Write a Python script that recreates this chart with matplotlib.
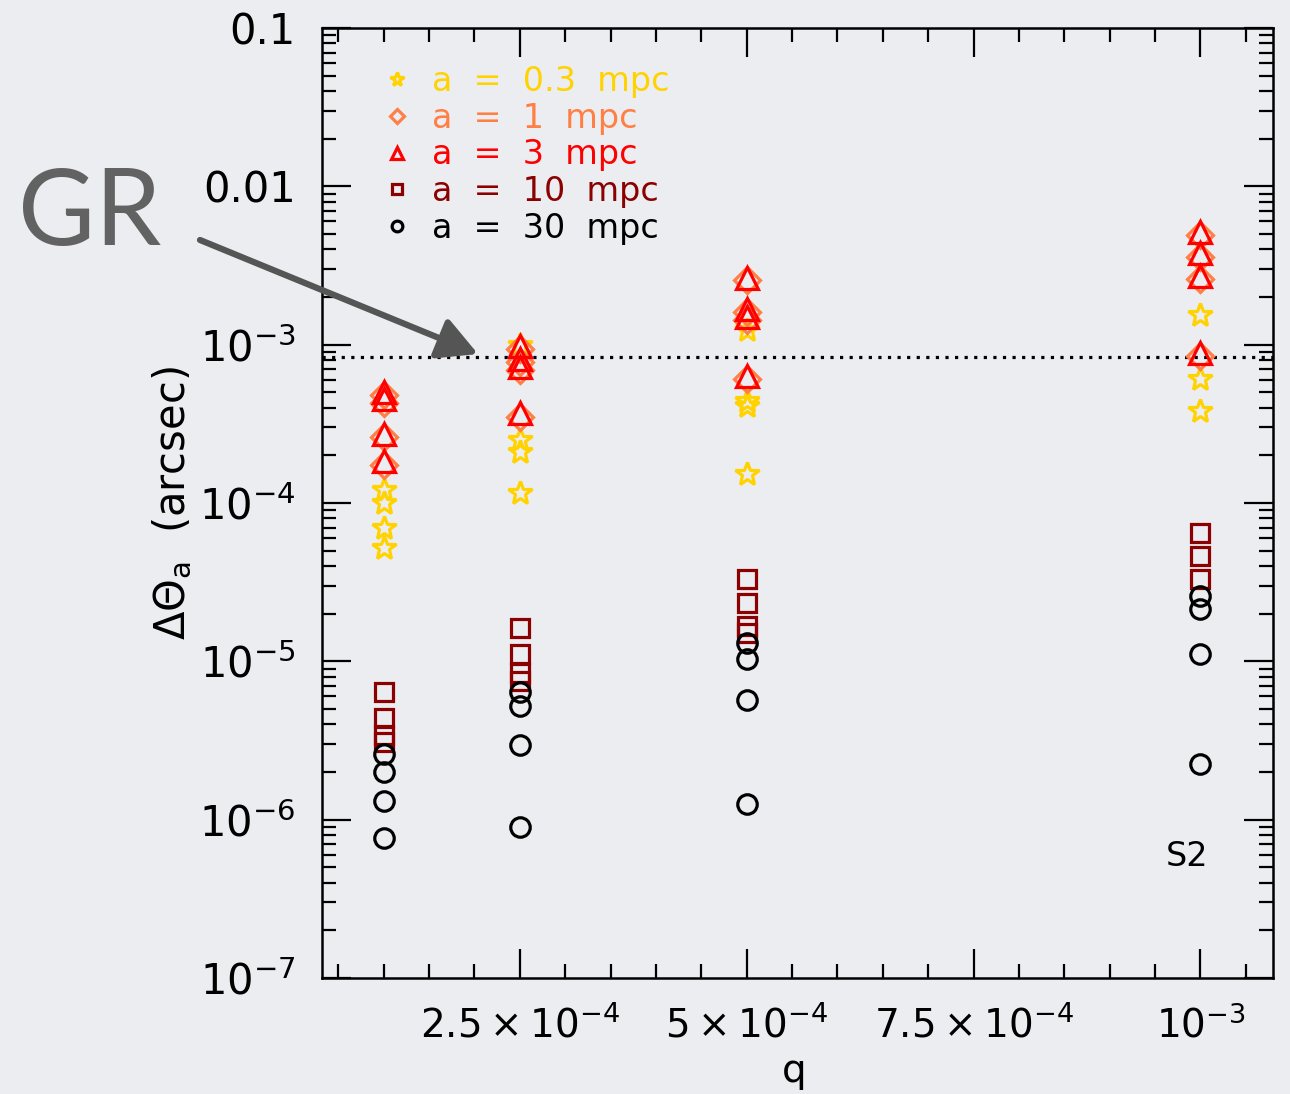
import matplotlib
matplotlib.use('Agg')
import matplotlib.pyplot as plt
from matplotlib.ticker import MultipleLocator, LogLocator, NullFormatter

# ---------------- data ----------------
q_values = [1e-4, 2.5e-4, 5e-4, 1e-3]

# Delta Theta_a (arcsec) for each q, per semimajor-axis series
theta_a03 = [[1.2e-4, 1.0e-4, 7.0e-5, 5.2e-5],
             [9.9e-4, 2.5e-4, 2.1e-4, 1.16e-4],
             [1.23e-3, 4.4e-4, 4.1e-4, 1.53e-4],
             [1.53e-3, 6.1e-4, 3.8e-4]]
theta_a1 = [[4.8e-4, 4.3e-4, 2.6e-4, 1.75e-4],
            [9.4e-4, 7.8e-4, 6.9e-4, 3.5e-4],
            [2.55e-3, 1.6e-3, 1.44e-3, 6.1e-4],
            [4.9e-3, 3.6e-3, 2.6e-3, 8.5e-4]]
theta_a3 = [[5.05e-4, 4.55e-4, 2.73e-4, 1.85e-4],
            [9.86e-4, 8.15e-4, 7.26e-4, 3.71e-4],
            [2.65e-3, 1.67e-3, 1.50e-3, 6.37e-4],
            [5.12e-3, 3.77e-3, 2.73e-3, 8.89e-4]]
theta_a10 = [[6.4e-6, 4.4e-6, 3.45e-6, 3.1e-6],
             [1.62e-5, 1.12e-5, 8.4e-6, 7.5e-6],
             [3.3e-5, 2.33e-5, 1.67e-5, 1.5e-5],
             [6.45e-5, 4.62e-5, 3.3e-5]]
theta_a30 = [[2.58e-6, 2.01e-6, 1.32e-6, 7.7e-7],
             [6.4e-6, 5.2e-6, 2.98e-6, 9.0e-7],
             [1.3e-5, 1.04e-5, 5.74e-6, 1.26e-6],
             [2.58e-5, 2.13e-5, 1.11e-5, 2.26e-6]]

series_data = [theta_a03, theta_a1, theta_a3, theta_a10, theta_a30]
series_labels = ['a  =  0.3  mpc', 'a  =  1  mpc', 'a  =  3  mpc',
                 'a  =  10  mpc', 'a  =  30  mpc']
series_colors = ['#FFD200', '#FF7F45', '#FF0000', '#8B0000', '#000000']
series_markers = ['*', 'D', '^', 's', 'o']
series_msize = [18, 13, 16, 13, 14]

gr_value = 8.3e-4

xtick_vals = [2.5e-4, 5e-4, 7.5e-4, 1e-3]
xtick_labels = [r'$2.5\times10^{-4}$', r'$5\times10^{-4}$',
                r'$7.5\times10^{-4}$', r'$10^{-3}$']
ytick_vals = [1e-1, 1e-2, 1e-3, 1e-4, 1e-5, 1e-6, 1e-7]
ytick_labels = ['0.1', '0.01', r'$10^{-3}$', r'$10^{-4}$', r'$10^{-5}$',
                r'$10^{-6}$', r'$10^{-7}$']

# ---------------- figure ----------------
bg = '#ECEDF1'
fig = plt.figure(figsize=(12.9, 10.94), dpi=100, facecolor=bg)
ax = fig.add_axes([322/1290, 1-978/1094, (1273-322)/1290, (978-28)/1094])
ax.set_facecolor(bg)

for data, lab, col, mk, ms in zip(series_data, series_labels, series_colors,
                                  series_markers, series_msize):
    first = True
    for q, vals in zip(q_values, data):
        ax.plot([q]*len(vals), vals, linestyle='none', marker=mk,
                markersize=ms, markerfacecolor='none', markeredgecolor=col,
                markeredgewidth=2.3, label=lab if first else None, zorder=3)
        first = False

ax.axhline(gr_value, color='black', linestyle=(0, (1, 2)), linewidth=2.3,
           zorder=2)

ax.set_yscale('log')
ax.set_xlim(3.2e-5, 1.08e-3)
ax.set_ylim(1e-7, 1e-1)

ax.set_xticks(xtick_vals)
ax.set_xticklabels(xtick_labels)
ax.xaxis.set_minor_locator(MultipleLocator(0.5e-4))
ax.set_yticks(ytick_vals)
ax.set_yticklabels(ytick_labels)
ax.yaxis.set_minor_locator(LogLocator(base=10, subs=range(2, 10), numticks=20))
ax.yaxis.set_minor_formatter(NullFormatter())

ax.tick_params(which='both', direction='in', top=True, right=True,
               width=1.6, colors='black')
ax.tick_params(which='major', length=21)
ax.tick_params(which='minor', length=10)
ax.tick_params(axis='y', which='major', labelsize=30, pad=19)
ax.tick_params(axis='x', which='major', labelsize=28, pad=20)
for sp in ax.spines.values():
    sp.set_linewidth(1.8)

ax.set_ylabel(r'$\Delta\Theta_{\rm a}$  (arcsec)', fontsize=30)
ax.yaxis.set_label_coords(-0.135, 0.5)
ax.set_xlabel('q', fontsize=28)
ax.xaxis.set_label_coords(0.497, -0.078)

leg = ax.legend(loc='upper left', bbox_to_anchor=(0.040, 0.982),
                frameon=False, fontsize=24, markerscale=0.55,
                handlelength=1.0, handletextpad=0.55, labelspacing=0.11,
                labelcolor='markeredgecolor', borderaxespad=0.2)

ax.text(0.91, 0.128, 'S2', transform=ax.transAxes, fontsize=24,
        color='black', ha='center', va='center')

# GR annotation
fig.text(18/1290, 1-245/1094, 'GR', fontsize=76, family='Lato',
         fontweight='normal', color='#626262', va='baseline', ha='left')
ax.annotate('', xy=(478, 1094-354), xytext=(200, 1094-240),
            xycoords='figure pixels', textcoords='figure pixels',
            arrowprops=dict(arrowstyle='-|>,head_length=0.6,head_width=0.32',
                            color='#555555', lw=4.5, mutation_scale=40,
                            shrinkA=0, shrinkB=0),
            annotation_clip=False, zorder=5)

fig.savefig('out.png', dpi=100, facecolor=bg)
